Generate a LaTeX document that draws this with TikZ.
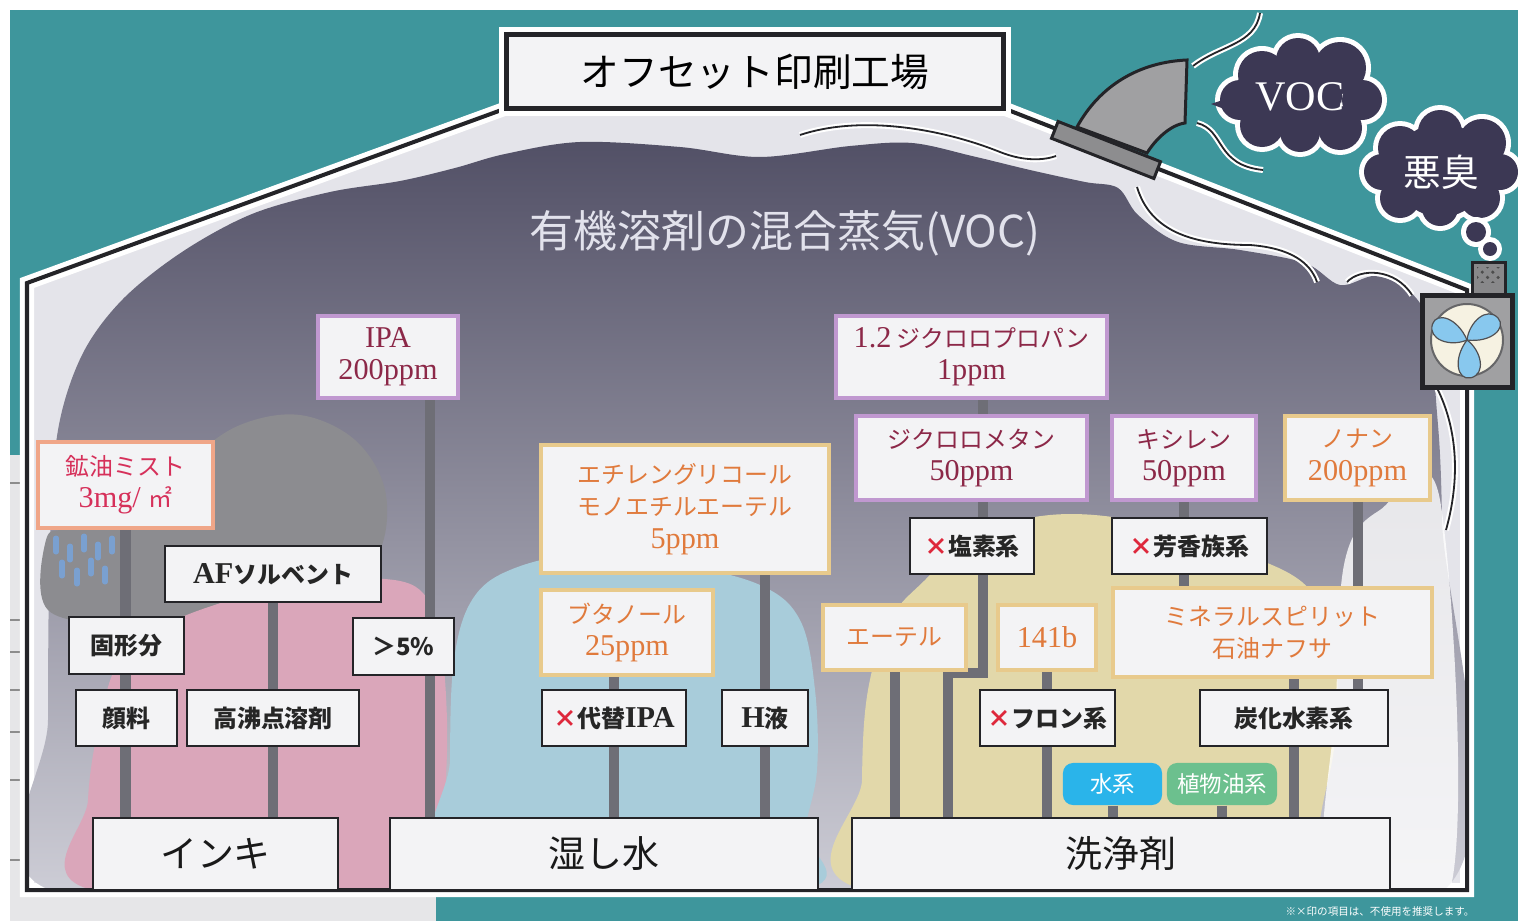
\documentclass[tikz,border=0pt]{standalone}
\usepackage{fontspec}
\setmainfont{Liberation Serif}
\newfontfamily\jp{Noto Sans CJK JP}
\usetikzlibrary{patterns}

% colours
\definecolor{sea}{RGB}{62,150,156}
\definecolor{paper}{RGB}{230,230,232}
\definecolor{hall}{RGB}{228,228,234}
\definecolor{fumetop}{RGB}{82,80,102}
\definecolor{fumemid}{RGB}{158,156,176}
\definecolor{fumebot}{RGB}{214,214,222}
\definecolor{mistgrey}{RGB}{140,140,144}
\definecolor{dropblue}{RGB}{122,160,208}
\definecolor{inkpink}{RGB}{218,166,186}
\definecolor{waterblue}{RGB}{168,204,218}
\definecolor{washsand}{RGB}{226,216,170}
\definecolor{boxfill}{RGB}{243,243,245}
\definecolor{edge}{RGB}{36,36,40}
\definecolor{linkgrey}{RGB}{110,110,118}
\definecolor{lilac}{RGB}{192,152,208}
\definecolor{wine}{RGB}{140,40,72}
\definecolor{sand}{RGB}{232,202,140}
\definecolor{amber}{RGB}{224,122,60}
\definecolor{salmon}{RGB}{240,166,136}
\definecolor{crimson}{RGB}{214,48,90}
\definecolor{ngred}{RGB}{222,40,60}
\definecolor{aqua}{RGB}{42,180,234}
\definecolor{leaf}{RGB}{108,192,142}
\definecolor{smog}{RGB}{60,56,84}
\definecolor{duct}{RGB}{160,160,162}
\definecolor{blade}{RGB}{136,200,238}
\definecolor{dial}{RGB}{246,242,226}
\definecolor{haze}{RGB}{226,226,236}

\newcommand{\fsbox}{\fontsize{6.8pt}{9.2pt}\selectfont}
\newcommand{\fsbig}{\fontsize{10.5pt}{12pt}\selectfont}
\newcommand{\en}[1]{{\rmfamily\fontsize{8.6pt}{9.2pt}\selectfont #1}}
\newcommand{\xmark}{\textcolor{ngred}{×}}
% dark cloud built from overlapping puffs, white rim first
\newcommand{\smogpuff}[1]{
  \foreach \cx/\cy/\r in {#1} \fill[white] (\cx,\cy) circle[radius=\r+5];
  \foreach \cx/\cy/\r in {#1} \fill[smog] (\cx,\cy) circle[radius=\r];
}
\newcommand{\hallpath}{(27,890) -- (27,283) -- (507,108) -- (1003,108) -- (1467,290) -- (1467,890) -- cycle}

\pgfdeclarelayer{back}
\pgfdeclarelayer{links}
\pgfsetlayers{back,links,main}

\tikzset{
  base/.style={rectangle, fill=boxfill, inner sep=0pt, align=center, font=\jp\fsbox},
  plain/.style={base, draw=edge, line width=0.022cm, text=black!85, font=\jp\bfseries\fsbox},
  limit/.style={base, draw=lilac, line width=0.045cm, text=wine},
  limit-gold/.style={base, draw=sand, line width=0.045cm, text=amber},
  limit-mist/.style={base, draw=salmon, line width=0.045cm, text=crimson},
  group/.style={base, draw=edge, line width=0.02cm, text=black!90, font=\jp\fsbig},
  title/.style={base, draw=edge, line width=0.05cm, preaction={draw=white, line width=0.15cm},
    font=\jp\fontsize{11pt}{13pt}\selectfont},
  pill/.style={rounded corners=0.1cm, inner sep=0pt, text=white, font=\jp\fontsize{6.4pt}{8pt}\selectfont},
  link/.style={draw=linkgrey, line width=0.1cm},
  wisp/.style={draw=edge, line width=0.018cm, preaction={draw=white, line width=0.06cm}},
  smogtext/.style={text=white, inner sep=0pt}
}

\begin{document}
\begin{tikzpicture}[x=0.01cm, y=-0.01cm]
  \useasboundingbox (0,0) rectangle (1518,921);

  % nodes
  \node[title, minimum width=4.96cm, minimum height=0.73cm] (hallname) at (755,71.5) {オフセット印刷工場};
  \node[text=haze, inner sep=0pt, font=\jp\fontsize{12.5pt}{14pt}\selectfont] (fume) at (785,233) {有機溶剤の混合蒸気(VOC)};

  % ink
  \node[limit-mist, minimum width=1.75cm, minimum height=0.86cm] (oil) at (125.5,485) {鉱油ミスト\\\en{3mg/ }㎡};
  \node[limit, minimum width=1.40cm, minimum height=0.82cm] (ipa) at (388,357) {\en{IPA}\\\en{200ppm}};
  \node[plain, minimum width=2.16cm, minimum height=0.56cm] (afs) at (273,574) {\en{AF}ソルベント};
  \node[plain, minimum width=1.15cm, minimum height=0.57cm] (solid) at (126.5,645.5) {固形分};
  \node[plain, minimum width=1.01cm, minimum height=0.57cm] (pct) at (403.5,646.5) {＞5\%};
  \node[plain, minimum width=1.01cm, minimum height=0.56cm] (pigment) at (126.5,718) {顔料};
  \node[plain, minimum width=1.72cm, minimum height=0.56cm] (hbs) at (273,718) {高沸点溶剤};
  \node[group, minimum width=2.45cm, minimum height=0.72cm] (ink) at (215.5,854) {インキ};

  % dampening water
  \node[limit-gold, minimum width=2.88cm, minimum height=1.28cm] (egme) at (685,509) {エチレングリコール\\モノエチルエーテル\\\en{5ppm}};
  \node[limit-gold, minimum width=1.72cm, minimum height=0.85cm] (buoh) at (627,632.5) {ブタノール\\\en{25ppm}};
  \node[plain, minimum width=1.44cm, minimum height=0.56cm] (altipa) at (614,718) {\xmark 代替\en{IPA}};
  \node[plain, minimum width=0.86cm, minimum height=0.56cm] (hliq) at (765,718) {\en{H}液};
  \node[group, minimum width=4.28cm, minimum height=0.72cm] (damp) at (604,854) {湿し水};

  % cleaning agents
  \node[limit, minimum width=2.71cm, minimum height=0.82cm] (dcp) at (971.5,357) {\en{1.2} ジクロロプロパン\\\en{1ppm}};
  \node[limit, minimum width=2.31cm, minimum height=0.84cm] (dcm) at (971.5,458) {ジクロロメタン\\\en{50ppm}};
  \node[limit, minimum width=1.44cm, minimum height=0.84cm] (xyl) at (1184,458) {キシレン\\\en{50ppm}};
  \node[limit-gold, minimum width=1.45cm, minimum height=0.84cm] (non) at (1357.5,458) {ノナン\\\en{200ppm}};
  \node[plain, minimum width=1.24cm, minimum height=0.56cm] (chl) at (972,546) {\xmark 塩素系};
  \node[plain, minimum width=1.55cm, minimum height=0.56cm] (aro) at (1189.5,546) {\xmark 芳香族系};
  \node[limit-gold, minimum width=1.43cm, minimum height=0.65cm] (eth) at (894.5,637.5) {エーテル};
  \node[limit-gold, minimum width=0.98cm, minimum height=0.65cm] (hcfc) at (1047,637.5) {\en{141b}};
  \node[limit-gold, minimum width=3.19cm, minimum height=0.89cm] (msp) at (1272.5,632.5) {ミネラルスピリット\\石油ナフサ};
  \node[plain, minimum width=1.35cm, minimum height=0.56cm] (cfc) at (1047.5,718) {\xmark フロン系};
  \node[plain, minimum width=1.88cm, minimum height=0.56cm] (hc) at (1294,718) {炭化水素系};
  \node[pill, fill=aqua, minimum width=0.99cm, minimum height=0.42cm] (aq) at (1112.5,784) {水系};
  \node[pill, fill=leaf, minimum width=1.10cm, minimum height=0.42cm] (veg) at (1222,784) {植物油系};
  \node[group, minimum width=5.38cm, minimum height=0.72cm] (cln) at (1121,854) {洗浄剤};

  % outside
  \node[smogtext, font=\rmfamily\fontsize{12pt}{14pt}\selectfont] (voc) at (1300,97) {VOC};
  \node[smogtext, font=\jp\fontsize{10.7pt}{12pt}\selectfont] (odor) at (1441,172) {悪臭};
  \node[text=white, inner sep=0pt, font=\jp\fontsize{3pt}{4pt}\selectfont] (note) at (1380,911) {※×印の項目は、不使用を推奨します。};

  % connectors
  \begin{pgfonlayer}{links}
    \coordinate (ipaleg) at ([xshift=0.42cm]ipa.south);
    \coordinate (dleg) at ([xshift=0.11cm]dcm.south);
    \coordinate (djog) at (948,673);
    \draw[link] (oil.south) -- (oil.south |- ink.north);
    \draw[link] (afs.south) -- (afs.south |- ink.north);
    \draw[link] (ipaleg) -- (ipaleg |- damp.north);
    \draw[link] (buoh.south -| altipa) -- (altipa |- damp.north);
    \draw[link] (egme.south -| hliq) -- (hliq |- damp.north);
    \draw[link] (dcp.south -| dleg) -- (dleg |- dcm.north);
    \draw[link] (dleg) |- (djog) -- (djog |- cln.north);
    \draw[link] (eth.south) -- (eth.south |- cln.north);
    \draw[link] (hcfc.south) -- (hcfc.south |- cln.north);
    \draw[link] (xyl.south) -- (xyl.south |- msp.north);
    \draw[link] (non.south) -- (non.south |- hc.north);
    \draw[link] (msp.south -| hc) -- (hc |- cln.north);
    \draw[link] (aq.south) -- (aq.south |- cln.north);
    \draw[link] (veg.south) -- (veg.south |- cln.north);
  \end{pgfonlayer}

  \begin{pgfonlayer}{back}
    \fill[white] (0,0) rectangle (1518,921);
    \fill[sea] (10,10) rectangle (1518,921);
    % page edge at lower left
    \fill[paper] (10,455) rectangle (30,921);
    \fill[paper] (10,893) rectangle (436,921);
    \foreach \t in {483,620,652,690,732,780,860}
      \draw[black!45, line width=0.015cm] (10,\t) -- (24,\t);

    % the hall and the vapour inside it
    \filldraw[hall, draw=white, line width=0.14cm] \hallpath;
    \begin{scope}
      \clip \hallpath;
      \shade[top color=fumetop, middle color=fumemid, bottom color=fumebot]
        plot[smooth cycle, tension=0.55] coordinates {
          (50,890) (48,720) (50,540) (58,430) (82,355) (122,300) (182,252) (252,214)
          (330,192) (400,181) (455,168) (505,154) (580,142) (680,147) (760,157) (850,146)
          (912,143) (972,156) (1030,170) (1085,182) (1118,188) (1138,215) (1178,242)
          (1240,250) (1305,263) (1340,285) (1375,276) (1408,290) (1428,322) (1436,400)
          (1442,520) (1444,890) (1000,892) (500,892)};
      % ink mist
      \fill[mistgrey] plot[smooth cycle, tension=0.6] coordinates {
        (48,610) (46,540) (70,528) (140,510) (190,460) (240,425) (300,415) (355,440)
        (385,490) (380,550) (340,590) (270,610) (200,625) (130,625)};
      \foreach \dx/\dy in {56/538,70/546,84/536,98/544,112/538,62/562,77/570,91/560,105/568}
        \draw[dropblue, line width=0.05cm, line cap=round] (\dx,\dy) -- ++(0,14);
      % ink, water, cleaner clouds
      \fill[inkpink] plot[smooth cycle, tension=0.6] coordinates {
        (92,890) (88,800) (100,720) (120,660) (165,625) (230,600) (300,582) (370,578)
        (420,590) (440,640) (447,720) (445,800) (440,890)};
      \fill[waterblue] plot[smooth cycle, tension=0.6] coordinates {
        (452,890) (450,760) (454,660) (472,600) (510,570) (580,555) (680,565) (760,585)
        (800,620) (815,690) (817,770) (805,830) (800,890)};
      \fill[washsand] plot[smooth cycle, tension=0.6] coordinates {
        (865,890) (862,780) (868,690) (890,620) (925,580) (975,535) (1050,515) (1130,520)
        (1200,545) (1260,560) (1310,590) (1335,650) (1335,740) (1320,820) (1315,890)};
      \fill[white, opacity=0.8] plot[smooth cycle, tension=0.6] coordinates {
        (1330,890) (1336,700) (1345,560) (1380,510) (1440,500) (1450,890)};
      % air currents under the roof
      \draw[wisp] (800,135) .. controls (860,115) and (940,128) .. (1000,152)
        .. controls (1025,162) and (1045,160) .. (1056,156);
      \draw[wisp] (1137,187) .. controls (1150,230) and (1190,245) .. (1250,245)
        .. controls (1290,248) and (1310,262) .. (1317,282);
      \draw[wisp] (1347,282) .. controls (1360,268) and (1395,268) .. (1412,295);
      \draw[wisp] (1437,388) .. controls (1458,430) and (1460,480) .. (1446,530);
    \end{scope}
    \draw[edge, line width=0.04cm] \hallpath;

    % roof vent
    \filldraw[duct, draw=edge, line width=0.03cm] (1077,127) .. controls (1100,85) and (1140,62) .. (1187,60)
      -- (1185,123) .. controls (1170,125) and (1155,140) .. (1147,153) -- cycle;
    \filldraw[duct!88!black, draw=edge, line width=0.03cm] (1051.5,138.3) -- (1058.1,121.5)
      -- (1160.5,161.7) -- (1153.9,178.5) -- cycle;
    \draw[wisp] (1193,66) .. controls (1220,45) and (1255,45) .. (1260,13);
    \draw[wisp] (1197,123) .. controls (1225,130) and (1215,165) .. (1263,170);

    % clouds outside
    \smogpuff{1300/95/42, 1262/75/24, 1298/60/22, 1340/68/26, 1362/100/20, 1340/128/22,
      1300/132/20, 1262/125/22, 1240/100/20}
    \fill[smog] (1246,92) -- (1211,104) -- (1248,118) -- cycle;
    \smogpuff{1441/170/47, 1400/148/22, 1440/132/22, 1482/143/24, 1500/172/18,
      1480/198/20, 1440/208/18, 1400/198/20, 1382/172/18}
    \smogpuff{1476/232/10, 1490/249/7}

    % exhaust fan on the gable wall
    \filldraw[duct!85!black, draw=edge, line width=0.03cm] (1472,262) rectangle (1505,295);
    \fill[pattern=crosshatch dots, pattern color=black!70] (1477,267) rectangle (1500,282);
    \filldraw[duct, draw=edge, line width=0.05cm] (1422,295) rectangle (1512,387);
    \filldraw[dial, draw=edge!70, line width=0.02cm] (1467,340) circle[radius=36];
    \foreach \a in {0,120,240}{
      \begin{scope}[shift={(1467,340)}, rotate=\a]
        \filldraw[blade, draw=edge!80, line width=0.012cm] (0,0) .. controls (2,-18) and (20,-34) .. (31,-22)
          .. controls (40,-12) and (24,3) .. (0,0);
      \end{scope}
    }
  \end{pgfonlayer}
\end{tikzpicture}
\end{document}
